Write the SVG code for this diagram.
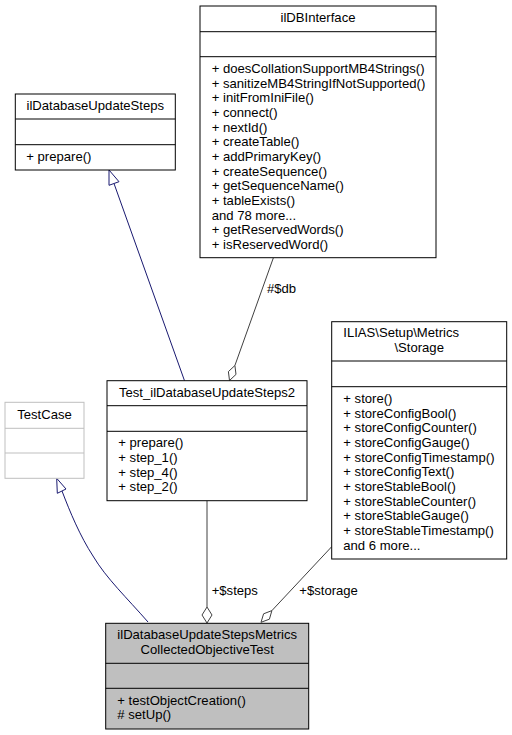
<svg xmlns="http://www.w3.org/2000/svg" width="512" height="735" viewBox="0 0 512 735">
<style>
text{font-family:"Liberation Sans",Arial,Helvetica,sans-serif;font-size:13.1px;fill:#000}
.c{text-anchor:middle}
.box{fill:#fff;stroke:#000;stroke-width:1}
.div{stroke:#000;stroke-width:1}
.gbox{fill:#fff;stroke:#bfbfbf;stroke-width:1}
.gdiv{stroke:#bfbfbf;stroke-width:1}
.inh{fill:none;stroke:#191970;stroke-width:1}
.inhh{fill:#fff;stroke:#191970;stroke-width:1}
.agg{fill:none;stroke:#404040;stroke-width:1}
.aggh{fill:#fff;stroke:#404040;stroke-width:1}
</style>
<rect width="512" height="735" fill="#fff"/>
<g id="connectors">
  <path class="inh" d="M148,622 C127,598 106,578 93,556 C80,536 70,512 62,491"/>
  <polygon class="inhh" points="56.7,478.3 66,489 57.3,493.3"/>
  <path class="inh" d="M184.5,380.7 L114,183.5"/>
  <polygon class="inhh" points="109,170 119,181.7 109,185.3"/>
  <path class="agg" d="M273.3,258 L234.9,365.5"/>
  <polygon class="aggh" points="229.5,380.5 228.4,371.6 234.9,365.5 236,374.4"/>
  <text x="267" y="292.8">#$db</text>
  <path class="agg" d="M207,500.7 L207,607"/>
  <polygon class="aggh" points="207,607 212,615 207,623 202,615"/>
  <text x="211.7" y="595.2">+$steps</text>
  <path class="agg" d="M331.7,546.7 L271.9,610.6"/>
  <polygon class="aggh" points="261,622.3 263.6,613.8 271.9,610.6 269.4,619.2"/>
  <text x="299.3" y="595.2">+$storage</text>
</g>
<g id="node-ilDBInterface">
  <rect class="box" x="200" y="6" width="236" height="251.7"/>
  <line class="div" x1="200" y1="31.7" x2="436" y2="31.7"/>
  <line class="div" x1="200" y1="56.7" x2="436" y2="56.7"/>
  <text class="c" x="318" y="21.7">ilDBInterface</text>
  <text x="211.7" y="72.9">+ doesCollationSupportMB4Strings()</text>
  <text x="211.7" y="87.6">+ sanitizeMB4StringIfNotSupported()</text>
  <text x="211.7" y="102.2">+ initFromIniFile()</text>
  <text x="211.7" y="116.9">+ connect()</text>
  <text x="211.7" y="131.6">+ nextId()</text>
  <text x="211.7" y="146.2">+ createTable()</text>
  <text x="211.7" y="160.9">+ addPrimaryKey()</text>
  <text x="211.7" y="175.6">+ createSequence()</text>
  <text x="211.7" y="190.3">+ getSequenceName()</text>
  <text x="211.7" y="204.9">+ tableExists()</text>
  <text x="211.7" y="219.6">and 78 more...</text>
  <text x="211.7" y="234.3">+ getReservedWords()</text>
  <text x="211.7" y="248.9">+ isReservedWord()</text>
</g>
<g id="node-ilDatabaseUpdateSteps">
  <rect class="box" x="15.3" y="94" width="160" height="76"/>
  <line class="div" x1="15.3" y1="119" x2="175.3" y2="119"/>
  <line class="div" x1="15.3" y1="144.7" x2="175.3" y2="144.7"/>
  <text class="c" x="95.3" y="109.7">ilDatabaseUpdateSteps</text>
  <text x="26.3" y="161">+ prepare()</text>
</g>
<g id="node-Storage">
  <rect class="box" x="331.7" y="321.7" width="175" height="237.3"/>
  <line class="div" x1="331.7" y1="361" x2="506.7" y2="361"/>
  <line class="div" x1="331.7" y1="386.7" x2="506.7" y2="386.7"/>
  <text x="343.3" y="337.4">ILIAS\Setup\Metrics</text>
  <text class="c" x="419.2" y="352.1">\Storage</text>
  <text x="343.3" y="403">+ store()</text>
  <text x="343.3" y="417.6">+ storeConfigBool()</text>
  <text x="343.3" y="432.3">+ storeConfigCounter()</text>
  <text x="343.3" y="447">+ storeConfigGauge()</text>
  <text x="343.3" y="461.6">+ storeConfigTimestamp()</text>
  <text x="343.3" y="476.3">+ storeConfigText()</text>
  <text x="343.3" y="491">+ storeStableBool()</text>
  <text x="343.3" y="505.6">+ storeStableCounter()</text>
  <text x="343.3" y="520.3">+ storeStableGauge()</text>
  <text x="343.3" y="535">+ storeStableTimestamp()</text>
  <text x="343.3" y="549.7">and 6 more...</text>
</g>
<g id="node-Test_ilDatabaseUpdateSteps2">
  <rect class="box" x="107" y="380.7" width="200" height="120"/>
  <line class="div" x1="107" y1="405.7" x2="307" y2="405.7"/>
  <line class="div" x1="107" y1="431.3" x2="307" y2="431.3"/>
  <text class="c" x="207" y="396.6">Test_ilDatabaseUpdateSteps2</text>
  <text x="118.3" y="447.4">+ prepare()</text>
  <text x="118.3" y="462.2">+ step_1()</text>
  <text x="118.3" y="476.9">+ step_4()</text>
  <text x="118.3" y="491.4">+ step_2()</text>
</g>
<g id="node-TestCase">
  <rect class="gbox" x="5" y="402.3" width="79" height="76"/>
  <line class="gdiv" x1="5" y1="428.3" x2="84" y2="428.3"/>
  <line class="gdiv" x1="5" y1="453" x2="84" y2="453"/>
  <text class="c" x="44.5" y="418.6">TestCase</text>
</g>
<g id="node-main">
  <rect x="105.7" y="623.3" width="203" height="105.7" fill="#bfbfbf" stroke="#000" stroke-width="1"/>
  <line class="div" x1="105.7" y1="663.3" x2="308.7" y2="663.3"/>
  <line class="div" x1="105.7" y1="688.3" x2="308.7" y2="688.3"/>
  <text class="c" x="207.2" y="638.9">ilDatabaseUpdateStepsMetrics</text>
  <text class="c" x="207.2" y="653.6">CollectedObjectiveTest</text>
  <text x="117.3" y="704.8">+ testObjectCreation()</text>
  <text x="117.3" y="718.8"># setUp()</text>
</g>
</svg>
